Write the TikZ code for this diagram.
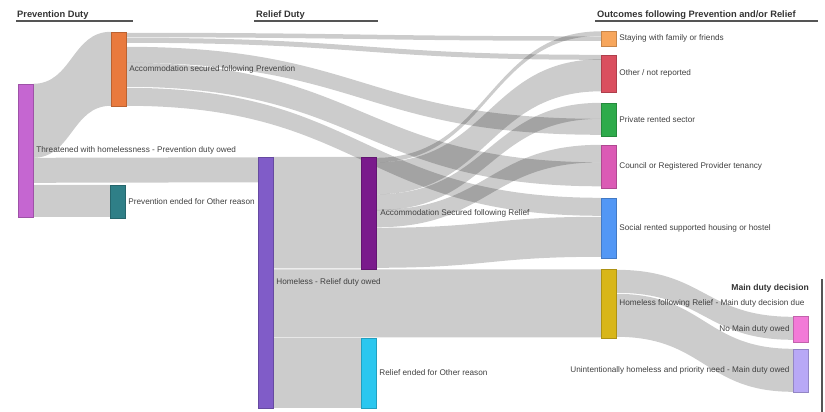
\documentclass[tikz,border=0pt]{standalone}
\usepackage{fontspec}
\setmainfont{Liberation Sans}
\usetikzlibrary{calc}
\pgfdeclarelayer{bg}
\pgfsetlayers{bg,main}
\definecolor{cT}{HTML}{C566D1}
\definecolor{cASP}{HTML}{E97A3E}
\definecolor{cPEO}{HTML}{2F7F87}
\definecolor{cHR}{HTML}{805CC8}
\definecolor{cASR}{HTML}{7A1A8C}
\definecolor{cREO}{HTML}{2BC7EF}
\definecolor{cSF}{HTML}{F7A65C}
\definecolor{cON}{HTML}{DA4F5F}
\definecolor{cPR}{HTML}{2EAB4B}
\definecolor{cCR}{HTML}{DB5AB5}
\definecolor{cSR}{HTML}{5297F5}
\definecolor{cHFR}{HTML}{D8B619}
\definecolor{cNM}{HTML}{F27AD7}
\definecolor{cUH}{HTML}{B8A8F6}
\definecolor{labelgray}{HTML}{404040}
\definecolor{hdrgray}{HTML}{333333}
\definecolor{rulegray}{HTML}{555555}
% band: source, source offset, target, target offset, width
\newcommand\sband[5]{%
  \begin{pgfonlayer}{bg}
  \fill[linkband] let \p1=([yshift={-(#2)*1pt}]#1.north east),
                      \p2=([yshift={-(#4)*1pt}]#3.north west),
                      \p3=([yshift={-(#2+#5)*1pt}]#1.north east),
                      \p4=([yshift={-(#4+#5)*1pt}]#3.north west),
                      \n1={0.5*\x1+0.5*\x2} in
    (\p1) .. controls (\n1,\y1) and (\n1,\y2) .. (\p2) -- (\p4)
          .. controls (\n1,\y4) and (\n1,\y3) .. (\p3) -- cycle;
  \end{pgfonlayer}}
\begin{document}
\begin{tikzpicture}[x=1pt,y=-1pt,
  nd/.style={rectangle, fill=#1, draw=#1!80!black, line width=0.4pt,
             minimum width=15pt, inner sep=0pt},
  linkband/.style={fill=black, fill opacity=0.2},
  lbl/.style={font=\fontsize{8.2}{10}\selectfont, text=labelgray, inner sep=0pt},
  hdr/.style={font=\fontsize{9.3}{11}\selectfont\bfseries, text=hdrgray,
              inner sep=0pt, anchor=base west},
  hline/.style={draw=rulegray, line width=1.3pt},
]
\useasboundingbox (0,0) rectangle (825,412);

% nodes
\node[nd=cT,   minimum height=133pt] (T)   at (25.5,150.5) {};
\node[nd=cASP, minimum height=74pt]  (ASP) at (118.5,69) {};
\node[nd=cPEO, minimum height=33pt]  (PEO) at (117.5,201.5) {};
\node[nd=cHR,  minimum height=251pt] (HR)  at (265.5,282.5) {};
\node[nd=cASR, minimum height=112pt] (ASR) at (368.5,213) {};
\node[nd=cREO, minimum height=70pt]  (REO) at (368.5,373) {};
\node[nd=cSF,  minimum height=15pt]  (SF)  at (608.5,38.5) {};
\node[nd=cON,  minimum height=37pt]  (ON)  at (608.5,73.5) {};
\node[nd=cPR,  minimum height=33pt]  (PR)  at (608.5,119.5) {};
\node[nd=cCR,  minimum height=43pt]  (CR)  at (608.5,166.5) {};
\node[nd=cSR,  minimum height=60pt]  (SR)  at (608.5,228) {};
\node[nd=cHFR, minimum height=69pt]  (HFR) at (608.5,303.5) {};
\node[nd=cNM,  minimum height=26pt]  (NM)  at (800.5,329) {};
\node[nd=cUH,  minimum height=43pt]  (UH)  at (800.5,370.5) {};

% bands
\sband{T}{0}{ASP}{0}{74}
\sband{T}{74}{HR}{0.5}{25}
\sband{T}{101}{PEO}{0}{32}
\sband{HR}{0}{ASR}{0}{111.5}
\sband{HR}{112.5}{HFR}{0.5}{68}
\sband{HR}{181}{REO}{0}{70}
\sband{ASP}{1}{SF}{5.5}{4.5}
\sband{ASP}{6}{ON}{0}{5}
\sband{ASP}{15}{PR}{16}{16}
\sband{ASP}{31}{CR}{17.5}{24}
\sband{ASP}{56}{SR}{0}{18}
\sband{ASR}{1}{SF}{0.5}{4.5}
\sband{ASR}{5.5}{ON}{4.5}{32}
\sband{ASR}{37.5}{PR}{0}{16}
\sband{ASR}{53}{CR}{0}{17.5}
\sband{ASR}{71}{SR}{19}{40}
\sband{HFR}{1}{NM}{1}{23}
\sband{HFR}{25}{UH}{0}{43}

% labels
\node[lbl, anchor=west] (lT)   at ([xshift=3pt]T.east)   {Threatened with homelessness - Prevention duty owed};
\node[lbl, anchor=west] (lASP) at ([xshift=3pt]ASP.east) {Accommodation secured following Prevention};
\node[lbl, anchor=west] (lPEO) at ([xshift=3pt]PEO.east) {Prevention ended for Other reason};
\node[lbl, anchor=west] (lHR)  at ([xshift=3pt]HR.east)  {Homeless - Relief duty owed};
\node[lbl, anchor=west] (lASR) at ([xshift=4pt]ASR.east) {Accommodation Secured following Relief};
\node[lbl, anchor=west] (lREO) at ([xshift=3pt]REO.east) {Relief ended for Other reason};
\node[lbl, anchor=west] (lSF)  at ([xshift=3pt]SF.east)  {Staying with family or friends};
\node[lbl, anchor=west] (lON)  at ([xshift=3pt]ON.east)  {Other / not reported};
\node[lbl, anchor=west] (lPR)  at ([xshift=3pt]PR.east)  {Private rented sector};
\node[lbl, anchor=west] (lCR)  at ([xshift=3pt]CR.east)  {Council or Registered Provider tenancy};
\node[lbl, anchor=west] (lSR)  at ([xshift=3pt]SR.east)  {Social rented supported housing or hostel};
\node[lbl, anchor=west] (lHFR) at ([xshift=3pt]HFR.east) {Homeless following Relief - Main duty decision due};
\node[lbl, anchor=east] (lNM)  at ([xshift=-3pt]NM.west) {No Main duty owed};
\node[lbl, anchor=east] (lUH)  at ([xshift=-3pt]UH.west) {Unintentionally homeless and priority need - Main duty owed};

% headers
\node[hdr] (h1) at (17,17.3)  {Prevention Duty};
\draw[hline] (16,21) -- (133,21);
\node[hdr] (h2) at (256,17.3) {Relief Duty};
\draw[hline] (254,21) -- (378,21);
\node[hdr] (h3) at (597,17.3) {Outcomes following Prevention and/or Relief};
\draw[hline] (595,21) -- (818,21);
\node[font=\fontsize{8.6}{10}\selectfont\bfseries, text=hdrgray, inner sep=0pt, anchor=east] (h4) at (809,288) {Main duty decision};
\draw[draw=rulegray, line width=1.2pt] (822,279) -- (822,412);
\end{tikzpicture}
\end{document}
